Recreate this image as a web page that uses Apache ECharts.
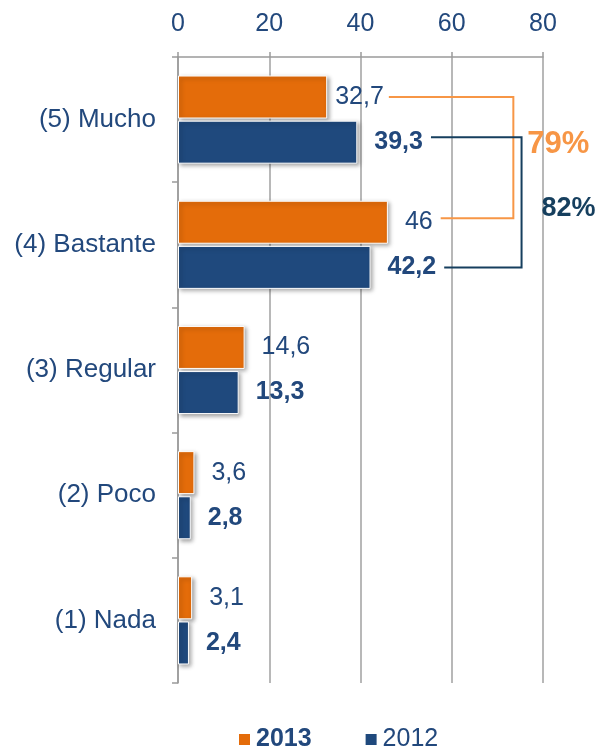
<!DOCTYPE html>
<html><head><meta charset="utf-8">
<script src="https://cdn.jsdelivr.net/npm/echarts@6/dist/echarts.min.js"></script>
<style>html,body{margin:0;padding:0;background:#fff}#c{width:600px;height:747px}</style>
</head><body><div id="c"></div>
<script>
var categories = ['(5) Mucho', '(4) Bastante', '(3) Regular', '(2) Poco', '(1) Nada'];
var values2013 = [32.7, 46, 14.6, 3.6, 3.1];
var values2012 = [39.3, 42.2, 13.3, 2.8, 2.4];
var seriesNames = ['2013', '2012'];
var xTicks = [0, 20, 40, 60, 80];
var totals = ['79%', '82%'];        // (5)+(4) for 2013 and 2012
var bracketX = [73.5, 75.3];        // x of the bracket vertical, data units

var FONT = '"Liberation Sans", Arial, sans-serif';
var TXT = '#22487c';
var ORANGE = '#e46c0a', BLUE = '#1f497d';
var ORANGE_L = '#f79646', TEAL = '#163f5e';
var BW = 43;
var VFS = 25;

function fmt(v){ return String(v).replace('.', ','); }

var chart = echarts.init(document.getElementById('c'), null, {renderer:'canvas'});
var shadow = {shadowBlur:4, shadowOffsetX:2, shadowOffsetY:2, shadowColor:'rgba(0,0,0,0.35)'};

var option = {
  animation:false,
  backgroundColor:'#fff',
  grid:{left:178, right:57, top:57, bottom:64},
  xAxis:{
    type:'value', position:'top', min:xTicks[0], max:xTicks[xTicks.length-1], interval:20,
    axisLine:{show:true, lineStyle:{color:'#9a9a9a', width:1.5}},
    axisTick:{show:true, length:5, lineStyle:{color:'#9a9a9a', width:1.5}},
    axisLabel:{color:TXT, fontSize:25, fontFamily:FONT, margin:20},
    splitLine:{show:true, lineStyle:{color:'#a0a0a0', width:1.5}}
  },
  yAxis:{
    type:'category', inverse:true, data:categories,
    axisLine:{show:true, lineStyle:{color:'#9a9a9a', width:1.5}},
    axisTick:{show:true, length:6, lineStyle:{color:'#9a9a9a', width:1.5}},
    axisLabel:{color:TXT, fontSize:26, fontFamily:FONT, margin:22}
  },
  legend:{
    left:232, top:722, itemWidth:13, itemHeight:13, itemGap:52, icon:'rect',
    textStyle:{color:TXT, fontSize:25, fontFamily:FONT},
    data:[{name:seriesNames[0], textStyle:{fontWeight:'bold'}}, {name:seriesNames[1]}]
  },
  series:[
    {name:seriesNames[0], type:'bar', barWidth:BW, barGap:'5%',
     itemStyle:Object.assign({color:ORANGE, borderColor:'#fff', borderWidth:1}, shadow),
     label:{show:true, position:'right', distance:17, color:TXT, fontSize:VFS, fontFamily:FONT,
            formatter:function(p){return fmt(p.value);}},
     data:values2013.map(function(v,i){ return i===0 ? {value:v, label:{distance:8}} : v; })},
    {name:seriesNames[1], type:'bar', barWidth:BW,
     itemStyle:Object.assign({color:BLUE, borderColor:'#fff', borderWidth:1}, shadow),
     label:{show:true, position:'right', distance:17, color:TXT, fontSize:VFS, fontWeight:'bold', fontFamily:FONT,
            formatter:function(p){return fmt(p.value);}},
     data:values2012}
  ]
};
chart.setOption(option);

// annotation brackets computed from the axes
var ctx = document.createElement('canvas').getContext('2d');
function tw(t, bold){ ctx.font = (bold?'bold ':'') + VFS + 'px ' + FONT; return ctx.measureText(t).width; }
function px(v){ return chart.convertToPixel({xAxisIndex:0}, v); }
function cy(i){ return chart.convertToPixel({yAxisIndex:0}, i); }
var off = (BW + BW*0.05)/2;
function labelEnd(v, dist, bold){ return px(v) + dist + tw(fmt(v), bold); }

var oTopY = cy(0) - off, oBotY = cy(1) - off - 4;
var bTopY = cy(0) + off - 5, bBotY = cy(1) + off;
var oX = px(bracketX[0]), bX = px(bracketX[1]);
var o1 = labelEnd(values2013[0], 8, false) + 5, o2 = labelEnd(values2013[1], 17, false) + 8;
var b1 = labelEnd(values2012[0], 17, true) + 8, b2 = labelEnd(values2012[1], 17, true) + 8;

chart.setOption({graphic:[
  {type:'polyline', shape:{points:[[o1,oTopY],[oX,oTopY],[oX,oBotY],[o2,oBotY]]},
   style:{stroke:ORANGE_L, lineWidth:2, fill:null}, z:10},
  {type:'polyline', shape:{points:[[b1,bTopY],[bX,bTopY],[bX,bBotY],[b2,bBotY]]},
   style:{stroke:TEAL, lineWidth:2, fill:null}, z:10},
  {type:'text', x:oX+14, y:(oTopY+oBotY)/2 - 13,
   style:{text:totals[0], fill:ORANGE_L, font:'bold 31px ' + FONT, textVerticalAlign:'middle'}, z:11},
  {type:'text', x:bX+20, y:(bTopY+bBotY)/2 + 6,
   style:{text:totals[1], fill:TEAL, font:'bold 27px ' + FONT, textVerticalAlign:'middle'}, z:11}
]});
</script>
</body></html>
